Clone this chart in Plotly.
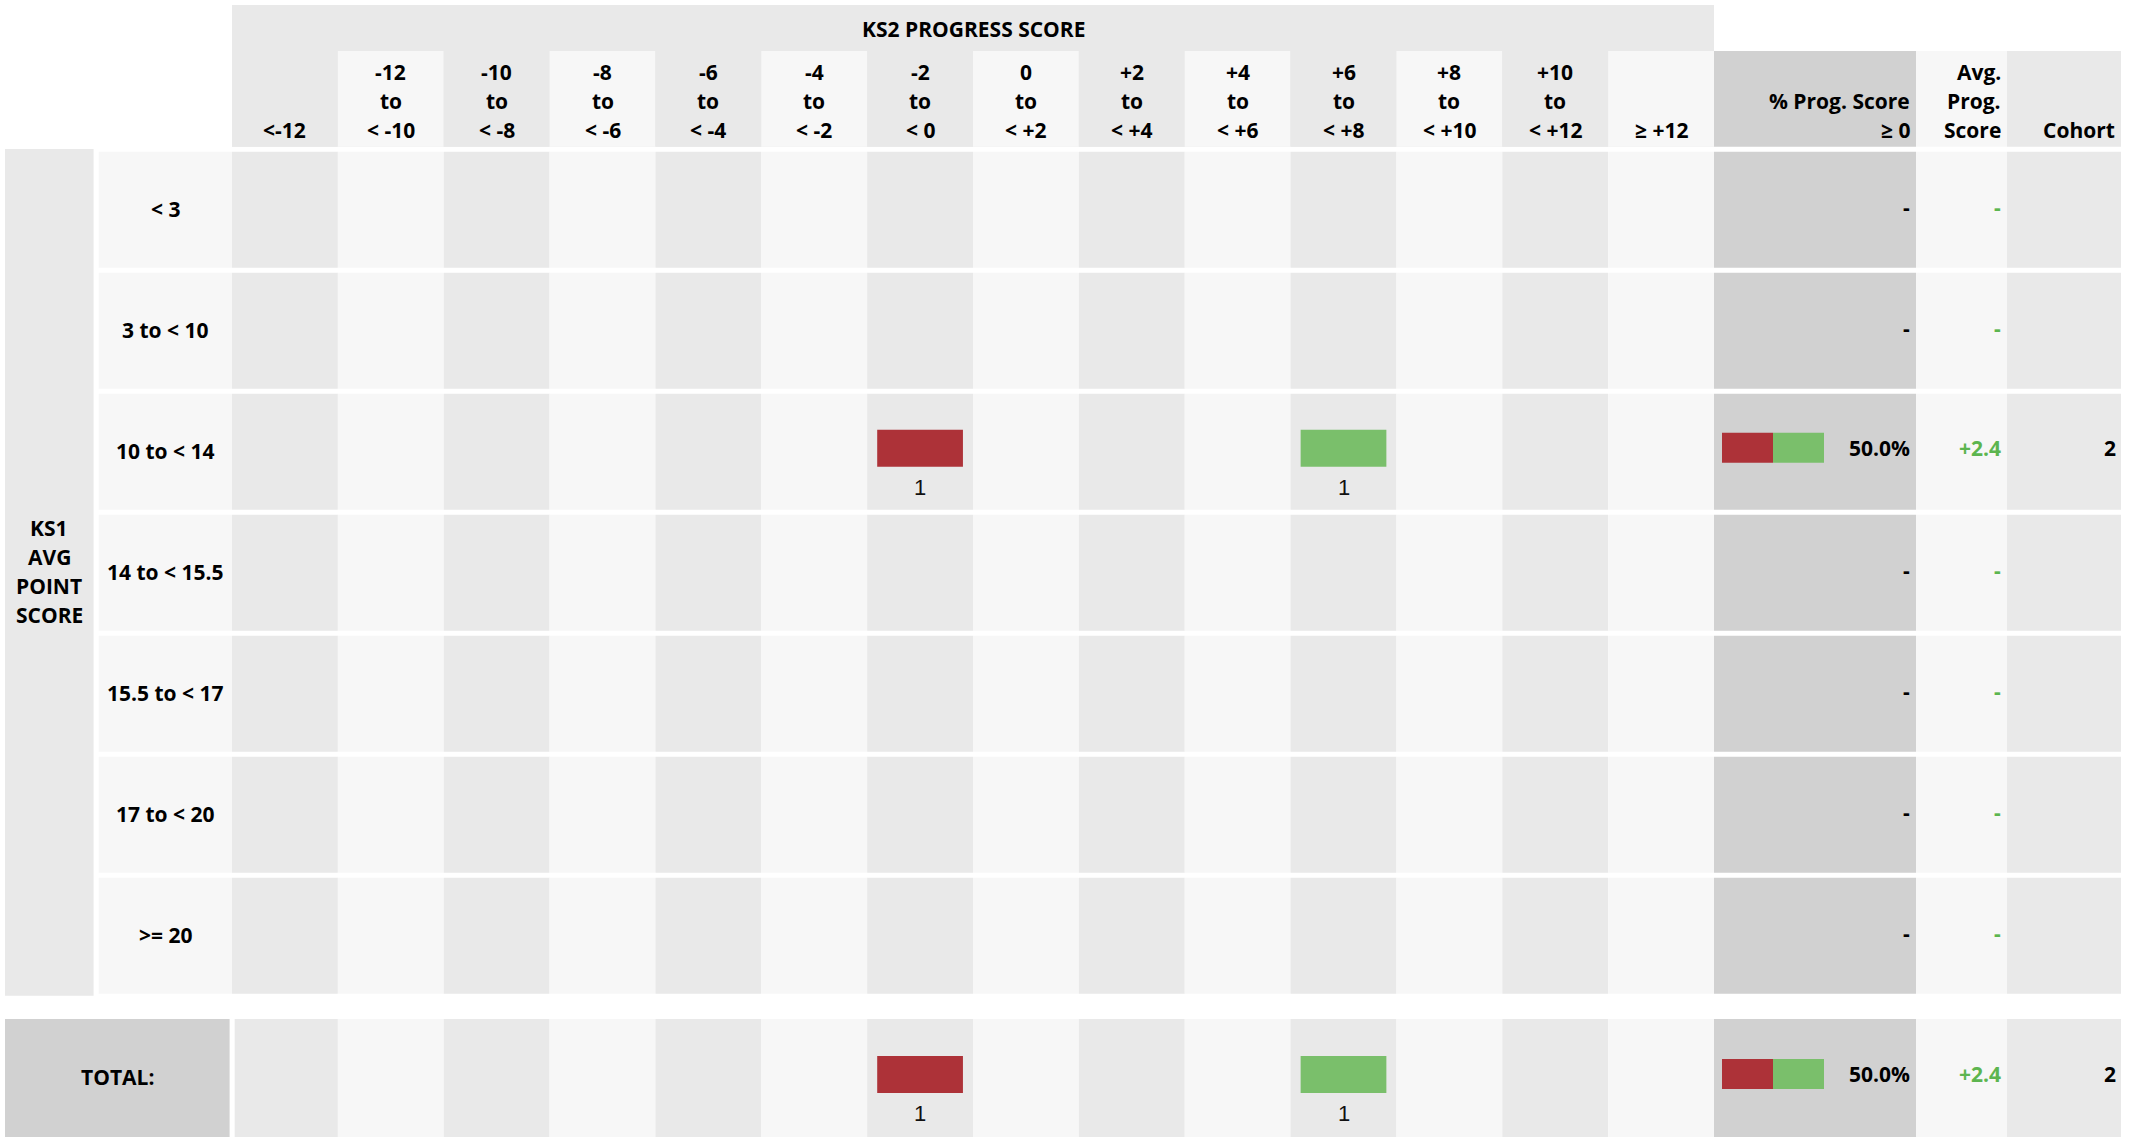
import plotly.graph_objects as go

# ---------------- data ----------------
KS2_BANDS = ["<-12", "-12|to|< -10", "-10|to|< -8", "-8|to|< -6", "-6|to|< -4",
             "-4|to|< -2", "-2|to|< 0", "0|to|< +2", "+2|to|< +4", "+4|to|< +6",
             "+6|to|< +8", "+8|to|< +10", "+10|to|< +12", "≥ +12"]
KS2_NEGATIVE = [True, True, True, True, True, True, True,
                False, False, False, False, False, False, False]
KS1_BANDS = ["< 3", "3 to < 10", "10 to < 14", "14 to < 15.5",
             "15.5 to < 17", "17 to < 20", ">= 20"]
COUNTS = [
    [0, 0, 0, 0, 0, 0, 0, 0, 0, 0, 0, 0, 0, 0],
    [0, 0, 0, 0, 0, 0, 0, 0, 0, 0, 0, 0, 0, 0],
    [0, 0, 0, 0, 0, 0, 1, 0, 0, 0, 1, 0, 0, 0],
    [0, 0, 0, 0, 0, 0, 0, 0, 0, 0, 0, 0, 0, 0],
    [0, 0, 0, 0, 0, 0, 0, 0, 0, 0, 0, 0, 0, 0],
    [0, 0, 0, 0, 0, 0, 0, 0, 0, 0, 0, 0, 0, 0],
    [0, 0, 0, 0, 0, 0, 0, 0, 0, 0, 0, 0, 0, 0],
]
PCT_GE0 = [None, None, 50.0, None, None, None, None]
AVG_PROG = [None, None, 2.4, None, None, None, None]
COHORT = [None, None, 2, None, None, None, None]
TOTAL_COUNTS = [0, 0, 0, 0, 0, 0, 1, 0, 0, 0, 1, 0, 0, 0]
TOTAL_PCT = 50.0
TOTAL_AVG = 2.4
TOTAL_COHORT = 2

TITLE = "KS2 PROGRESS SCORE"
SIDE_TITLE = ["KS1", "AVG", "POINT", "SCORE"]
PCT_HEADER = ["", "% Prog. Score", "≥ 0"]
AVG_HEADER = ["Avg.", "Prog.", "Score"]
COH_HEADER = ["", "", "Cohort"]
TOTAL_LABEL = "TOTAL:"

# ---------------- layout constants ----------------
W, H = 2143, 1137
FONT = "Open Sans"
FS = 21
RED = "#ad3238"
GREEN = "#7abf6b"
GREEN_TXT = "#5cb54f"
DARK = "#e9e9e9"
LIGHT = "#f7f7f7"
MID = "#d1d1d1"

KS1_X = (5, 93.6)
LAB_X = (98.7, 232)
GRID_X0, GRID_X1 = 232, 1714
NCOL = len(KS2_BANDS)
COL_W = (GRID_X1 - GRID_X0) / NCOL
PCT_X = (1714, 1916)
AVG_X = (1916, 2007)
COH_X = (2007, 2121)
BAND_Y = (5, 146.7)
HCELL_Y = (51, 146.7)
HEAD_LINES_Y = [72, 101, 130]
TITLE_Y = 29
ROW0 = 151.7
PITCH = 121
ROW_H = 116
TOT_TOP = 1019
TOT_H = 118
TOT_LAB_X = (5, 229.6)
TOT_GRID_X0 = 234.7
BAR_H = 37
BAR_MAXW = COL_W * 0.81
MINI_X0 = 1722
MINI_W = 102
MINI_H = 30
PAD_R = 3

shapes = []
ann = []


def rect(x0, x1, y0, y1, color):
    shapes.append(dict(type="rect", xref="x", yref="y", x0=x0, x1=x1, y0=y0, y1=y1,
                       fillcolor=color, line=dict(width=0), layer="below"))


def text(x, y, s, size=FS, color="black", anchor="center", bold=True, family=FONT):
    ann.append(dict(x=x, y=y, xref="x", yref="y", text=("<b>%s</b>" % s) if bold else s,
                    showarrow=False, xanchor=anchor, yanchor="middle",
                    font=dict(family=family, size=size, color=color)))


def col_x(i):
    return GRID_X0 + i * COL_W, GRID_X0 + (i + 1) * COL_W


# header
rect(GRID_X0, GRID_X1, BAND_Y[0], BAND_Y[1], DARK)
text((GRID_X0 + GRID_X1) / 2, TITLE_Y, TITLE)
for i, lab in enumerate(KS2_BANDS):
    a, b = col_x(i)
    rect(a, b, HCELL_Y[0], HCELL_Y[1], DARK if i % 2 == 0 else LIGHT)
    parts = lab.split("|")
    parts = [""] * (3 - len(parts)) + parts
    for p, yy in zip(parts, HEAD_LINES_Y):
        if p:
            text((a + b) / 2, yy, p)
rect(PCT_X[0], PCT_X[1], HCELL_Y[0], HCELL_Y[1], MID)
rect(AVG_X[0], AVG_X[1], HCELL_Y[0], HCELL_Y[1], LIGHT)
rect(COH_X[0], COH_X[1], HCELL_Y[0], HCELL_Y[1], DARK)
for hdr, xr in ((PCT_HEADER, PCT_X), (AVG_HEADER, AVG_X), (COH_HEADER, COH_X)):
    for p, yy in zip(hdr, HEAD_LINES_Y):
        if p:
            text(xr[1] - PAD_R - 1, yy, p, anchor="right")

# side title
rect(KS1_X[0], KS1_X[1], ROW0 - 2.7, ROW0 + PITCH * (len(KS1_BANDS) - 1) + ROW_H + 2, DARK)
mid_y = ROW0 + (PITCH * (len(KS1_BANDS) - 1) + ROW_H) / 2
for k, s in enumerate(SIDE_TITLE):
    text((KS1_X[0] + KS1_X[1]) / 2, mid_y + (k - 1.5) * 29 - 1, s)

max_count = max(max(max(r) for r in COUNTS), max(TOTAL_COUNTS))

bar_y, bar_x, bar_base, bar_col, bar_w = [], [], [], [], []


def data_row(top, height, counts, pct, avg, coh, label, label_x, grid_x0, label_fill):
    cy = top + height / 2
    rect(label_x[0], label_x[1], top, top + height, label_fill)
    text((label_x[0] + label_x[1]) / 2, cy - 1, label)
    for i, c in enumerate(counts):
        a, b = col_x(i)
        if i == 0:
            a = grid_x0
        rect(a, b, top, top + height, DARK if i % 2 == 0 else LIGHT)
        if c:
            w = BAR_MAXW * c / max_count
            cx = GRID_X0 + (i + 0.5) * COL_W
            bar_y.append(cy - 3.5)
            bar_x.append(w)
            bar_base.append(cx - w / 2)
            bar_col.append(RED if KS2_NEGATIVE[i] else GREEN)
            bar_w.append(BAR_H)
            text(cx, cy + 35.5, str(c), size=22, color="#111", bold=False,
                 family="Liberation Sans")
    rect(PCT_X[0], PCT_X[1], top, top + height, MID)
    rect(AVG_X[0], AVG_X[1], top, top + height, LIGHT)
    rect(COH_X[0], COH_X[1], top, top + height, DARK)
    if pct is None:
        text(PCT_X[1] - PAD_R - 1, cy - 3, "-", anchor="right")
    else:
        neg = MINI_W * (100 - pct) / 100
        bar_y.extend([cy - 4, cy - 4])
        bar_x.extend([neg, MINI_W - neg])
        bar_base.extend([MINI_X0, MINI_X0 + neg])
        bar_col.extend([RED, GREEN])
        bar_w.extend([MINI_H, MINI_H])
        text(PCT_X[1] - PAD_R - 1, cy - 4, "%.1f%%" % pct, anchor="right")
    if avg is None:
        text(AVG_X[1] - PAD_R - 1, cy - 3, "-", anchor="right", color=GREEN_TXT)
    else:
        text(AVG_X[1] - PAD_R - 1, cy - 4, "%+.1f" % avg, anchor="right",
             color=GREEN_TXT if avg >= 0 else RED)
    if coh is not None:
        text(COH_X[1] - PAD_R, cy - 4, str(coh), anchor="right")


for r, lab in enumerate(KS1_BANDS):
    data_row(ROW0 + r * PITCH, ROW_H, COUNTS[r], PCT_GE0[r], AVG_PROG[r], COHORT[r],
             lab, LAB_X, GRID_X0, LIGHT)

data_row(TOT_TOP, TOT_H, TOTAL_COUNTS, TOTAL_PCT, TOTAL_AVG, TOTAL_COHORT,
         TOTAL_LABEL, TOT_LAB_X, TOT_GRID_X0, MID)

fig = go.Figure()
fig.add_trace(go.Bar(
    orientation="h", y=bar_y, x=bar_x, base=bar_base, width=bar_w,
    marker=dict(color=bar_col, line=dict(width=0)),
    hoverinfo="skip", showlegend=False))

fig.update_layout(
    width=W, height=H, margin=dict(l=0, r=0, t=0, b=0),
    paper_bgcolor="white", plot_bgcolor="white",
    barmode="overlay", showlegend=False,
    xaxis=dict(range=[0, W], visible=False, fixedrange=True),
    yaxis=dict(range=[H, 0], visible=False, fixedrange=True),
    shapes=shapes, annotations=ann,
)
fig.write_html("out.html", config={"displayModeBar": False},
               post_script="document.body.style.margin='0';document.body.style.overflow='hidden';")
